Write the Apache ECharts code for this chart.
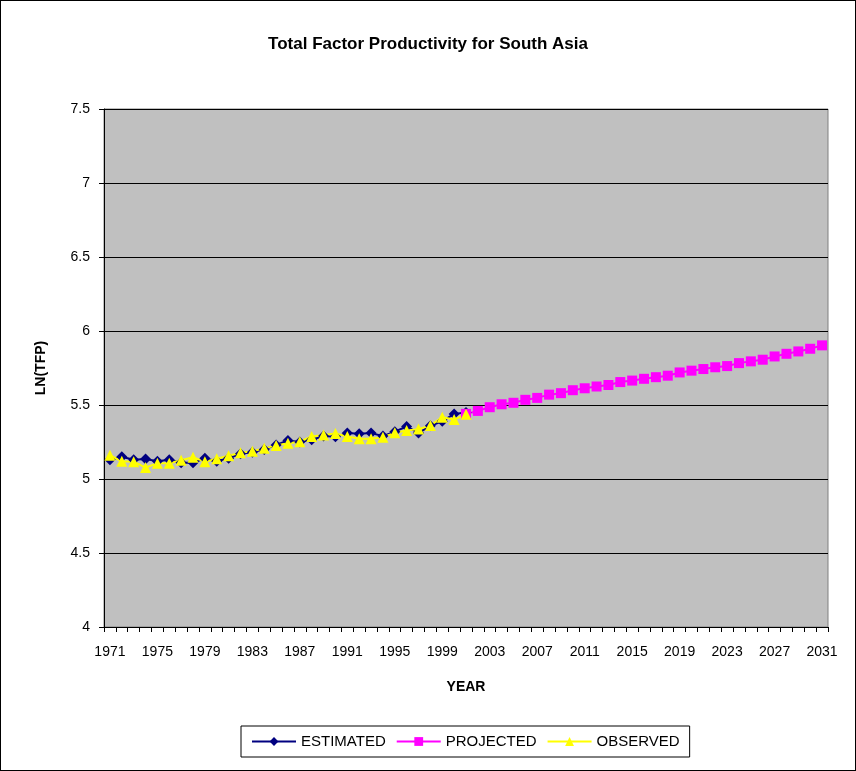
<!DOCTYPE html>
<html>
<head>
<meta charset="utf-8">
<script src="https://cdn.jsdelivr.net/npm/echarts@6/dist/echarts.min.js"></script>
<style>
html,body{margin:0;padding:0;background:#fff;}
#c{width:856px;height:771px;box-sizing:border-box;border:1px solid #000;}
</style>
</head>
<body>
<div id="c"></div>
<script>
var firstYear = 1971, lastYear = 2031;
var estimatedStart = 1971;
var estimated = [5.13,5.15,5.13,5.135,5.12,5.13,5.11,5.11,5.14,5.12,5.14,5.17,5.18,5.20,5.23,5.26,5.25,5.265,5.29,5.285,5.31,5.305,5.31,5.29,5.32,5.355,5.31,5.36,5.39,5.44,5.45];
var observedStart = 1971;
var observed = [5.16,5.12,5.117,5.077,5.107,5.107,5.127,5.147,5.117,5.137,5.157,5.177,5.187,5.207,5.227,5.242,5.252,5.287,5.297,5.307,5.287,5.272,5.272,5.282,5.312,5.327,5.337,5.362,5.417,5.402,5.437];
var projectedStart = 2001;
var projected = [5.44,5.46,5.485,5.505,5.515,5.535,5.548,5.57,5.58,5.60,5.613,5.625,5.635,5.655,5.665,5.677,5.688,5.698,5.72,5.732,5.743,5.755,5.763,5.783,5.795,5.806,5.828,5.846,5.862,5.88,5.903];

var years = [];
for (var y = firstYear; y <= lastYear; y++) years.push(String(y));
function pad(vals, start) {
  var out = years.map(function(){ return null; });
  vals.forEach(function(v, i){ out[start - firstYear + i] = v; });
  return out;
}

var chart = echarts.init(document.getElementById('c'));
var font = 'Liberation Sans, Arial, sans-serif';
chart.setOption({
  animation: false,
  backgroundColor: '#fff',
  title: {
    text: 'Total Factor Productivity for South Asia',
    left: 'center', top: 30,
    textStyle: {fontFamily: font, fontSize: 17, fontWeight: 'bold', color: '#000'}
  },
  grid: {left: 103, right: 27, top: 108, bottom: 143, show: true, backgroundColor: '#C0C0C0', borderColor: '#808080', borderWidth: 1},
  xAxis: {
    type: 'category', data: years, boundaryGap: true,
    name: 'YEAR', nameLocation: 'middle', nameGap: 53,
    nameTextStyle: {fontFamily: font, fontSize: 14, fontWeight: 'bold', color: '#000'},
    axisLine: {lineStyle: {color: '#000', width: 1}},
    axisTick: {show: true, interval: 0, length: 5, lineStyle: {color: '#000'}},
    axisLabel: {interval: 3, fontFamily: font, fontSize: 14, color: '#000', margin: 18},
    splitLine: {show: false}
  },
  yAxis: {
    type: 'value', min: 4, max: 7.5, interval: 0.5,
    name: 'LN(TFP)', nameLocation: 'middle', nameGap: 56, nameRotate: 90,
    nameTextStyle: {fontFamily: font, fontSize: 14, fontWeight: 'bold', color: '#000'},
    axisLine: {show: true, lineStyle: {color: '#000', width: 1}},
    axisTick: {show: true, length: 5, lineStyle: {color: '#000'}},
    axisLabel: {fontFamily: font, fontSize: 14, color: '#000', margin: 14},
    splitLine: {show: true, lineStyle: {color: '#000', width: 1}}
  },
  legend: {
    left: 240, top: 725,
    borderColor: '#000', borderWidth: 1, padding: [8, 10],
    itemWidth: 44, itemHeight: 11, itemGap: 10,
    textStyle: {fontFamily: font, fontSize: 15, color: '#000'},
    data: ['ESTIMATED', 'PROJECTED', 'OBSERVED']
  },
  series: [
    {name: 'ESTIMATED', type: 'line', data: pad(estimated, estimatedStart), symbol: 'diamond', symbolSize: 11, showAllSymbol: true,
     lineStyle: {color: '#000080', width: 2}, itemStyle: {color: '#000080'}, connectNulls: false},
    {name: 'PROJECTED', type: 'line', data: pad(projected, projectedStart), symbol: 'rect', symbolSize: 10, showAllSymbol: true,
     lineStyle: {color: '#FF00FF', width: 2}, itemStyle: {color: '#FF00FF'}, connectNulls: false},
    {name: 'OBSERVED', type: 'line', data: pad(observed, observedStart), symbol: 'triangle', symbolSize: 11, showAllSymbol: true,
     lineStyle: {color: '#FFFF00', width: 2}, itemStyle: {color: '#FFFF00'}, connectNulls: false}
  ]
});
</script>
</body>
</html>
